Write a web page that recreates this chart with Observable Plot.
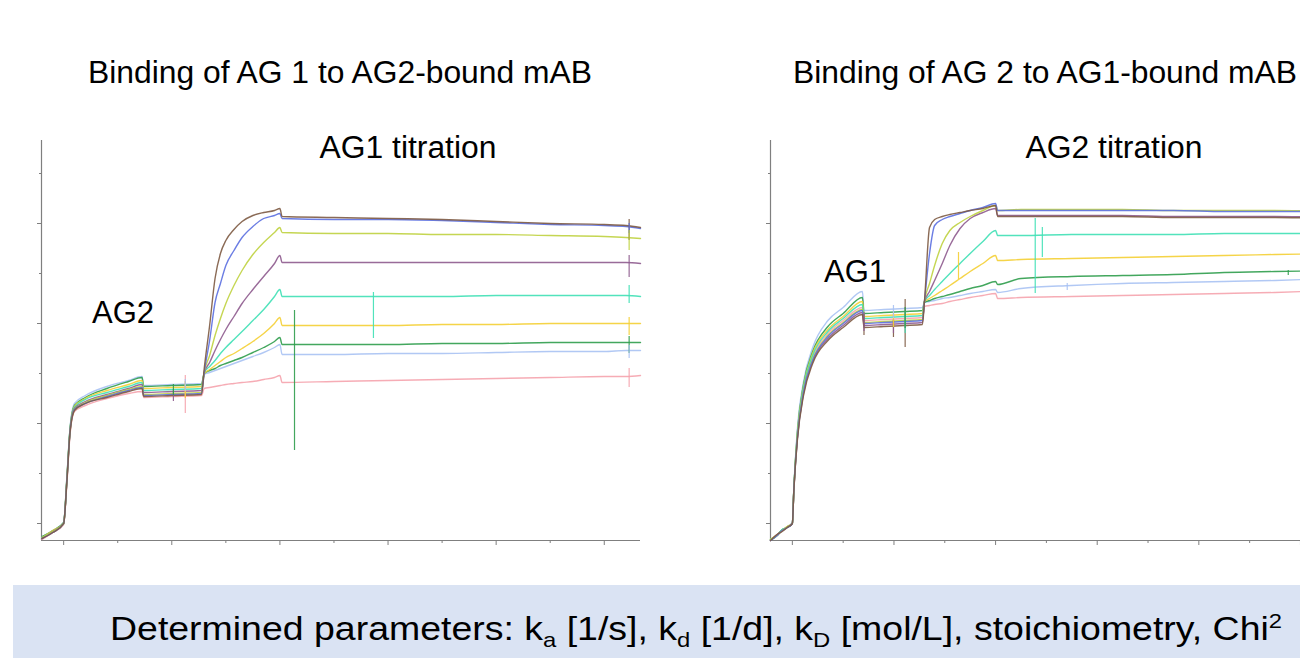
<!DOCTYPE html>
<html>
<head>
<meta charset="utf-8">
<script src="https://cdn.jsdelivr.net/npm/d3@7"></script>
<script src="https://cdn.jsdelivr.net/npm/@observablehq/plot@0.6"></script>
<style>
  html, body { margin: 0; padding: 0; background: #fff; }
  body { width: 1300px; height: 658px; position: relative; overflow: hidden; font-family: "Liberation Sans", Arial, sans-serif; color: #000; }
  .t { position: absolute; white-space: nowrap; line-height: 1; font-size: 31px; }
  .c { transform: translateX(-50%) scaleX(1.026); }
  #left { position: absolute; left: 31px; top: 130px; width: 614px; }
  #right { position: absolute; left: 760px; top: 130px; width: 579px; }
  #left svg, #right svg { max-width: none !important; background: transparent !important; }
  #banner { position: absolute; left: 13px; top: 585px; width: 1287px; height: 73px; background: #dae3f3; }
  #banner .txt { position: absolute; left: 97px; top: 27px; font-size: 33px; line-height: 1; white-space: nowrap; transform: scaleX(1.135); transform-origin: 0 0; }
  sub { font-size: 21px; vertical-align: -7px; line-height: 0; }
  sup { font-size: 21px; vertical-align: 12px; line-height: 0; }
</style>
</head>
<body>
<div class="t c" style="left:340px; top:57px;">Binding of AG 1 to AG2-bound mAB</div>
<div class="t c" style="left:1045px; top:57px;">Binding of AG 2 to AG1-bound mAB</div>
<div id="left"></div>
<div id="right"></div>
<div class="t c" style="left:408px; top:132px;">AG1 titration</div>
<div class="t c" style="left:1114px; top:132px;">AG2 titration</div>
<div class="t" style="left:92px; top:297px;">AG2</div>
<div class="t" style="left:824px; top:256px;">AG1</div>
<div id="banner"><div class="txt">Determined parameters: k<sub>a</sub> [1/s], k<sub>d</sub> [1/d], k<sub>D</sub> [mol/L], stoichiometry, Chi<sup>2</sup></div></div>
<script>
// ---- series identity (9 titration concentrations) ----
const seriesNames = ["c9", "c1", "c8", "c7", "c6", "c5", "c4", "c3", "c2"];
const seriesColors = ["#a9c2f3", "#f5a3ad", "#2f9d4c", "#f4cf34", "#3fe0b5", "#8e5b8e", "#bfd13f", "#5b6fe0", "#7d5a42"];

// ---- axis ticks ----
const xMajorTicks = [0, 200, 400, 600, 800, 1000];
const xMinorTicks = [100, 300, 500, 700, 900];
const yMajorTicks = [0, 100, 200, 300];
const yMinorTicks = [50, 150, 250, 350];

// ---- left panel: AG1 titration (time in s, response in RU) ----
const leftTime = [-40, -20, 0, 6, 12, 20, 40, 80, 120, 145, 148, 200, 255, 260, 270, 280, 290, 300, 315, 330, 350, 370, 390, 400, 404, 500, 600, 700, 800, 900, 1000, 1040, 1067];
const leftBrown = [-15, -9, 0, 42, 92, 113, 120, 126, 132, 135, 127, 128, 129, 155, 198, 245, 270, 283, 294, 302, 308, 311, 313, 315, 307, 306, 305, 304, 302, 300, 299, 298, 296];
const leftBlue = [-15, -9, 0, 43, 93, 114, 120, 127, 133, 136, 128, 129, 130, 151, 183, 221, 240, 258, 273, 286, 297, 305, 308, 310, 305, 304, 304, 303, 301, 299, 298, 297, 295];
const leftOlive = [-14, -8, 0, 43, 93, 114, 121, 128, 134, 137, 129, 130, 131, 151, 168, 188, 205, 220, 238, 253, 269, 281, 291, 296, 291, 290, 290, 289, 289, 288, 287, 286, 285];
const leftPurple = [-15, -8, 0, 44, 94, 115, 122, 129, 135, 139, 131, 132, 133, 151, 161, 173, 184, 194, 207, 220, 234, 247, 260, 268, 261, 261, 261, 261, 261, 261, 261, 261, 260];
const leftTeal = [-14, -8, 0, 44, 95, 116, 124, 131, 137, 141, 133, 134, 135, 151, 157, 163, 170, 176, 184, 192, 203, 214, 227, 234, 227, 227, 227, 227, 228, 228, 228, 228, 227];
const leftYellow = [-14, -7, 0, 45, 95, 117, 125, 133, 139, 143, 135, 136, 137, 150, 154, 158, 162, 166, 170, 175, 182, 190, 200, 206, 198, 198, 198, 199, 199, 200, 200, 200, 200];
const leftGreen = [-13, -7, 1, 46, 96, 118, 126, 135, 142, 146, 137, 138, 139, 150, 153, 155, 158, 160, 163, 166, 171, 176, 182, 186, 179, 179, 179, 180, 180, 181, 181, 181, 181];
const leftLightBlue = [-13, -7, 1, 47, 97, 120, 128, 137, 143, 147, 138, 139, 140, 149, 151, 153, 155, 157, 160, 163, 167, 171, 176, 179, 169, 169, 170, 170, 171, 172, 172, 173, 173];
const leftPink = [-16, -9, -1, 40, 90, 112, 118, 125, 130, 132, 126, 127, 128, 135, 136, 137, 138, 139, 140, 141, 142, 144, 146, 148, 141, 142, 143, 144, 145, 146, 147, 147, 148];

const leftSpikeSeries = ["c5", "c8", "c1", "c7", "c9", "c8", "c6", "c2", "c3", "c4", "c5", "c6", "c7", "c8", "c9", "c1"];
const leftSpikeTime = [203, 203, 225, 225, 225, 427, 573, 1046, 1046, 1046, 1046, 1046, 1046, 1046, 1046, 1046];
const leftSpikeFrom = [134, 139, 148, 142, 144, 213, 231, 304, 300, 293, 268, 238, 206, 187, 178, 155];
const leftSpikeTo = [122, 128, 110, 125, 132, 73, 185, 283, 290, 273, 246, 220, 188, 170, 165, 136];

// ---- right panel: AG2 titration ----
const rightTime = [-43, -30, -20, -10, 0, 3, 10, 22, 40, 70, 100, 138, 141, 180, 220, 256, 260, 270, 280, 295, 310, 330, 350, 375, 400, 404, 450, 550, 650, 750, 850, 950, 1067];
const rightBrown = [-17, -11, -8, -4, 0, 33, 84, 128, 160, 183, 196, 209, 196, 197, 198, 199, 222, 296, 304, 307, 309, 311, 313, 315, 318, 307, 307, 307, 307, 306, 306, 306, 305];
const rightBlue = [-17, -12, -7, -4, 0, 34, 86, 132, 163, 187, 200, 213, 200, 201, 202, 203, 222, 270, 298, 304, 307, 310, 313, 316, 320, 313, 313, 313, 313, 313, 312, 312, 312];
const rightOlive = [-16, -12, -7, -3, 0, 34, 87, 133, 164, 188, 201, 214, 201, 202, 203, 204, 222, 240, 258, 280, 293, 301, 307, 313, 318, 313, 314, 314, 314, 313, 313, 313, 312];
const rightPurple = [-17, -11, -7, -4, 0, 33, 85, 130, 162, 185, 198, 211, 198, 199, 200, 201, 222, 232, 243, 260, 278, 295, 305, 311, 315, 308, 308, 308, 308, 307, 307, 307, 306];
const rightTeal = [-16, -12, -6, -4, 0, 35, 89, 136, 168, 192, 205, 219, 205, 206, 207, 208, 222, 228, 234, 242, 250, 260, 270, 282, 293, 288, 288, 289, 289, 289, 290, 290, 290];
const rightYellow = [-16, -11, -7, -3, 0, 35, 90, 137, 170, 194, 207, 222, 207, 208, 209, 210, 222, 225, 228, 233, 238, 245, 252, 260, 268, 263, 264, 265, 266, 267, 268, 269, 270];
const rightGreen = [-17, -12, -6, -4, 0, 35, 92, 139, 172, 197, 210, 226, 210, 211, 212, 213, 221, 223, 225, 227, 229, 232, 235, 238, 242, 239, 245, 247, 248, 249, 251, 252, 253];
const rightLightBlue = [-16, -11, -7, -3, 1, 36, 95, 142, 176, 203, 216, 232, 213, 214, 215, 216, 221, 222, 223, 225, 226, 228, 230, 232, 234, 231, 235, 238, 240, 241, 242, 243, 245];
const rightPink = [-17, -12, -7, -4, 0, 34, 88, 134, 166, 190, 203, 216, 203, 204, 205, 206, 217, 218, 219, 220, 222, 224, 226, 228, 230, 225, 226, 227, 228, 229, 230, 231, 233];

const rightSpikeSeries = ["c2", "c5", "c2", "c5", "c7", "c9", "c2", "c6", "c8", "c7", "c6", "c6", "c9", "c8"];
const rightSpikeTime = [141, 141, 199, 199, 199, 199, 222, 222, 222, 327, 478, 492, 541, 976];
const rightSpikeFrom = [209, 211, 203, 204, 211, 218, 224, 212, 216, 271, 305, 296, 240, 253];
const rightSpikeTo = [188, 192, 186, 190, 196, 205, 176, 190, 195, 244, 230, 266, 233, 248];

// ---- builders ----
function toRows(times, table) {
  return table.flatMap(([s, vals]) => vals.map((v, i) => ({t: times[i], v, s})));
}
function toSpikes(series, times, from, to) {
  return series.map((s, i) => ({s, t: times[i], a: from[i], b: to[i]}));
}

function panel(rows, spikes, xDomain, plotWidth) {
  const yDomain = [-17, 383];
  const axisColor = "#7f7f7f";
  return Plot.plot({
    width: 10 + plotWidth + 5,
    height: 420,
    marginLeft: 10, marginRight: 5, marginTop: 10, marginBottom: 10,
    x: {domain: xDomain, label: null},
    y: {domain: yDomain, label: null},
    color: {type: "ordinal", domain: seriesNames, range: seriesColors},
    style: {background: "transparent", overflow: "visible"},
    marks: [
      Plot.ruleX([xDomain[0]], {stroke: axisColor, strokeWidth: 1.2}),
      Plot.ruleY([yDomain[0]], {stroke: axisColor, strokeWidth: 1.2}),
      Plot.axisY(yMajorTicks, {tickSize: 4, tickFormat: () => "", stroke: axisColor, label: null}),
      Plot.axisY(yMinorTicks, {tickSize: 2, tickFormat: () => "", stroke: axisColor, label: null}),
      Plot.axisX(xMajorTicks, {tickSize: 5, tickFormat: () => "", stroke: axisColor, label: null}),
      Plot.axisX(xMinorTicks, {tickSize: 3, tickFormat: () => "", stroke: axisColor, label: null}),
      Plot.line(rows, {x: "t", y: "v", z: "s", stroke: "s", curve: "monotone-x", strokeWidth: 1.4, strokeOpacity: 0.9}),
      Plot.ruleX(spikes, {x: "t", y1: "a", y2: "b", stroke: "s", strokeWidth: 1.2, strokeOpacity: 0.9})
    ]
  });
}

const leftRows = toRows(leftTime, [
  ["c9", leftLightBlue], ["c1", leftPink], ["c8", leftGreen], ["c7", leftYellow],
  ["c6", leftTeal], ["c5", leftPurple], ["c4", leftOlive], ["c3", leftBlue], ["c2", leftBrown]
]);
const rightRows = toRows(rightTime, [
  ["c9", rightLightBlue], ["c1", rightPink], ["c8", rightGreen], ["c7", rightYellow],
  ["c6", rightTeal], ["c5", rightPurple], ["c4", rightOlive], ["c3", rightBlue], ["c2", rightBrown]
]);

document.getElementById("left").appendChild(
  panel(leftRows, toSpikes(leftSpikeSeries, leftSpikeTime, leftSpikeFrom, leftSpikeTo), [-41, 1067], 599)
);
document.getElementById("right").appendChild(
  panel(rightRows, toSpikes(rightSpikeSeries, rightSpikeTime, rightSpikeFrom, rightSpikeTo), [-43, 1067], 564)
);
</script>
</body>
</html>
